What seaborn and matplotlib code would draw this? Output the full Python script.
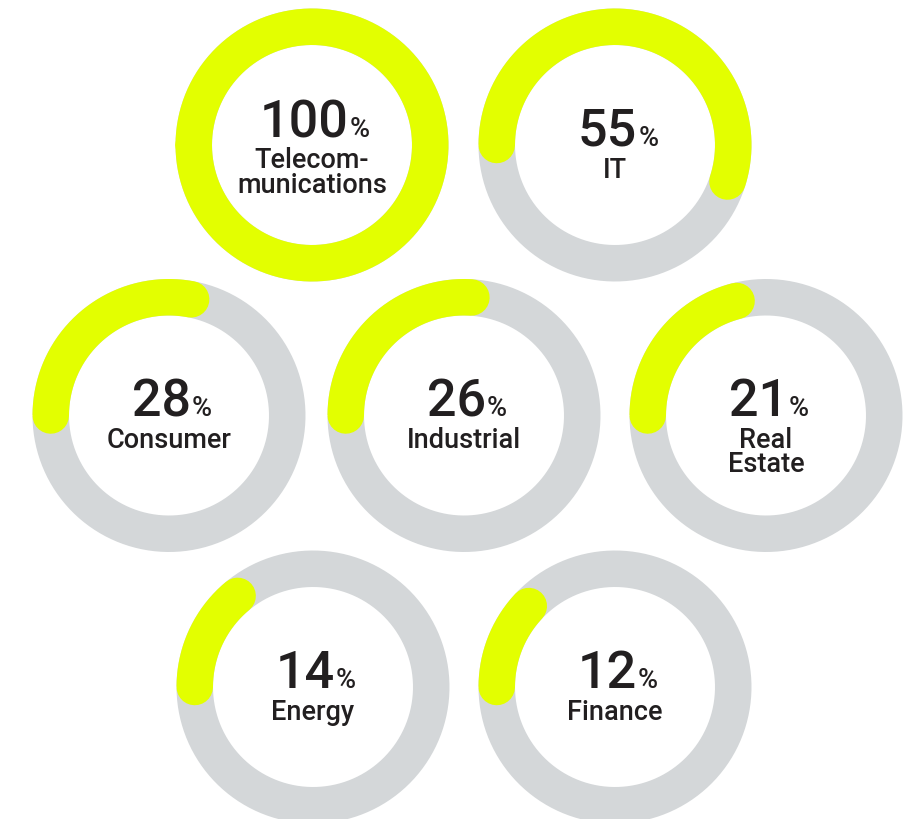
import numpy as np
import pandas as pd
import matplotlib
matplotlib.use("Agg")
import matplotlib.pyplot as plt
import seaborn as sns

# Share of companies per sector
sectors = ["Telecommunications", "IT", "Consumer", "Industrial",
           "Real Estate", "Energy", "Finance"]
shares = [100, 55, 28, 26, 21, 14, 12]
label_lines = [["Telecom-", "munications"], ["IT"], ["Consumer"],
               ["Industrial"], ["Real", "Estate"], ["Energy"], ["Finance"]]

# Layout (pixel coordinates, y grows downward)
W, H = 919, 820
centers = [(312, 146), (615, 146),
           (169, 416.5), (464, 416.5), (766, 416.5),
           (313, 688), (615, 688)]
text_shift = [-9, 0, 0, 0, 0, 0, 0]
R_OUT, R_IN = 136.5, 100.0
R_MID = (R_OUT + R_IN) / 2
RING_PX = R_OUT - R_IN

LIME = "#E3FF00"
GREY = "#D4D7D9"
INK = "#221F20"

sns.set_theme(style="white")
plt.rcParams["font.family"] = ["Roboto", "DejaVu Sans"]

DPI = 100
fig = plt.figure(figsize=(W / DPI, H / DPI), dpi=DPI, facecolor="white")
ax = fig.add_axes([0, 0, 1, 1])
ax.set_xlim(0, W)
ax.set_ylim(H, 0)
ax.set_axis_off()

lw_pt = RING_PX * 72 / DPI


def arc_frame(cx, cy, pct, n=400):
    """Points along the ring mid-line, starting at 9 o'clock, running clockwise."""
    phi = np.radians(np.linspace(0, 360 * pct / 100, n))
    return pd.DataFrame({"x": cx - R_MID * np.cos(phi),
                         "y": cy - R_MID * np.sin(phi)})


for (cx, cy), pct in zip(centers, shares):
    track = arc_frame(cx, cy, 100)
    sns.lineplot(data=track, x="x", y="y", sort=False, estimator=None,
                 color=GREY, linewidth=lw_pt, solid_capstyle="butt",
                 solid_joinstyle="round", ax=ax, legend=False, zorder=1)
    fill = arc_frame(cx, cy, pct)
    sns.lineplot(data=fill, x="x", y="y", sort=False, estimator=None,
                 color=LIME, linewidth=lw_pt, solid_capstyle="round",
                 solid_joinstyle="round", ax=ax, legend=False, zorder=2)

ax.set_xlim(0, W)
ax.set_ylim(H, 0)
ax.set_xlabel("")
ax.set_ylabel("")

fig.canvas.draw()
renderer = fig.canvas.get_renderer()

NUM_SIZE = 37.5
PCT_SIZE = 19.5
LAB_SIZE = 19.5
WEIGHT = 500
GAP = 1
LINE_STEP = 24

for (cx, cy), pct, lines, dy in zip(centers, shares, label_lines, text_shift):
    base = cy + dy
    num = ax.text(0, base, f"{pct}", fontsize=NUM_SIZE, fontweight=WEIGHT,
                  color=INK, ha="left", va="baseline", zorder=3)
    sign = ax.text(0, base, "%", fontsize=PCT_SIZE, fontweight=WEIGHT,
                   color=INK, ha="left", va="baseline", zorder=3)
    wn = num.get_window_extent(renderer).width
    wp = sign.get_window_extent(renderer).width
    left = cx + 3 - (wn + GAP + wp) / 2
    num.set_x(left)
    sign.set_x(left + wn + GAP)
    # multi-line text is anchored on the baseline of its last line
    last_base = base + 32 + (len(lines) - 1) * LINE_STEP
    ax.text(cx, last_base, "\n".join(lines), fontsize=LAB_SIZE,
            fontweight=WEIGHT, color=INK, ha="center", va="baseline",
            multialignment="center", linespacing=0.9, zorder=3)

fig.savefig("out.png", dpi=DPI, facecolor="white")
